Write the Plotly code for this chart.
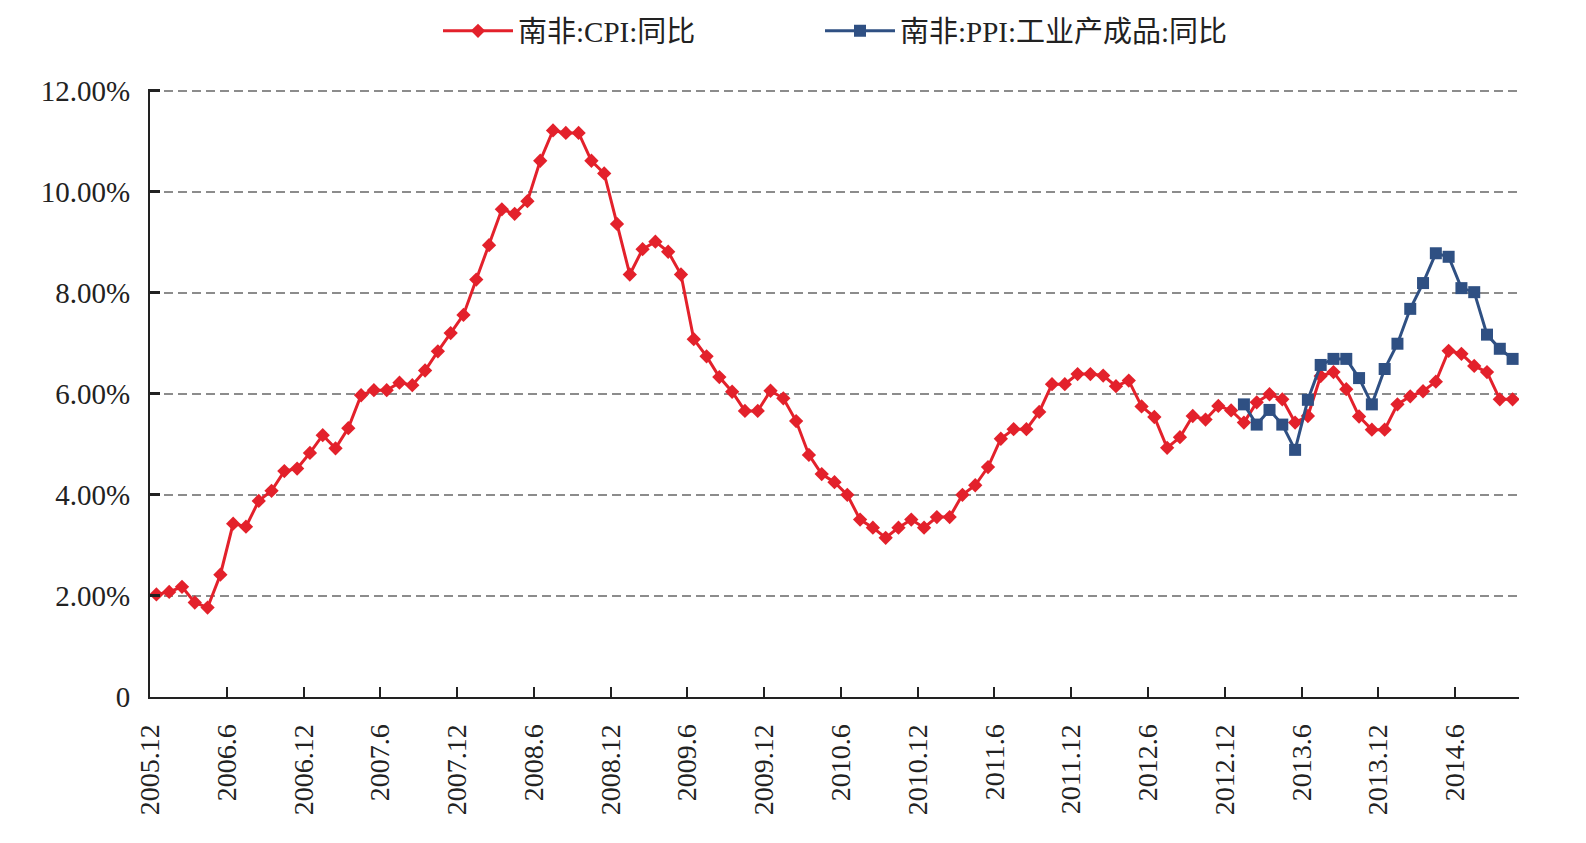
import plotly.graph_objects as go

# Months: 2005.12 .. 2014.10 (107 monthly points)
months = []
y, m = 2005, 12
for _ in range(107):
    months.append(f"{y}.{m}")
    m += 1
    if m > 12:
        m = 1
        y += 1

cpi = [2.03, 2.08, 2.18, 1.87, 1.77, 2.42, 3.43, 3.37, 3.88, 4.08,
       4.47, 4.52, 4.83, 5.18, 4.92, 5.32, 5.97, 6.07, 6.07, 6.22,
       6.17, 6.46, 6.84, 7.20, 7.56, 8.26, 8.94, 9.65, 9.56, 9.81,
       10.61, 11.21, 11.16, 11.16, 10.61, 10.36, 9.36, 8.36, 8.86, 9.01,
       8.81, 8.36, 7.08, 6.74, 6.33, 6.04, 5.66, 5.66, 6.06, 5.91,
       5.46, 4.79, 4.41, 4.25, 4.00, 3.51, 3.35, 3.15, 3.35, 3.51,
       3.35, 3.56, 3.56, 4.00, 4.19, 4.55, 5.11, 5.30, 5.30, 5.64,
       6.19, 6.19, 6.39, 6.39, 6.36, 6.15, 6.26, 5.75, 5.54, 4.93,
       5.14, 5.56, 5.49, 5.76, 5.67, 5.43, 5.83, 5.99, 5.89, 5.43,
       5.56, 6.35, 6.43, 6.09, 5.55, 5.29, 5.29, 5.79, 5.95, 6.05,
       6.24, 6.85, 6.79, 6.55, 6.43, 5.89, 5.89]

ppi_months = months[85:]
ppi = [5.79, 5.39, 5.68, 5.39, 4.89, 5.88, 6.57, 6.69, 6.69, 6.31,
       5.79, 6.49, 6.99, 7.68, 8.19, 8.78, 8.71, 8.09, 8.01, 7.17,
       6.89, 6.69]

tick_labels = months[::6]
y_ticks = [0, 2, 4, 6, 8, 10, 12]
y_tick_text = ["0", "2.00%", "4.00%", "6.00%", "8.00%", "10.00%", "12.00%"]

idx = {mm: i for i, mm in enumerate(months)}
x_cpi = [idx[mm] for mm in months]
x_ppi = [idx[mm] for mm in ppi_months]

FONT = "Liberation Serif, Noto Sans CJK SC"

fig = go.Figure()
fig.add_trace(go.Scatter(
    x=x_cpi, y=cpi, mode="lines+markers", name="南非:CPI:同比",
    line=dict(color="#E3212B", width=3),
    marker=dict(symbol="diamond", size=11, color="#E3212B"),
    legend="legend",
))
fig.add_trace(go.Scatter(
    x=x_ppi, y=ppi, mode="lines+markers", name="南非:PPI:工业产成品:同比",
    line=dict(color="#2F5083", width=3),
    marker=dict(symbol="square", size=12, color="#2F5083"),
    legend="legend2",
))

legend_common = dict(orientation="h", xref="container", yref="container",
                     xanchor="left", y=1 - 31 / 843, yanchor="middle",
                     font=dict(family=FONT, size=29, color="#222222"),
                     itemwidth=70, bgcolor="rgba(0,0,0,0)")

fig.update_layout(
    width=1586, height=843,
    margin=dict(l=150, r=67, t=89, b=146),
    paper_bgcolor="white", plot_bgcolor="white",
    font=dict(family=FONT, size=26, color="#222222"),
    showlegend=True,
    legend=dict(x=438 / 1586, **legend_common),
    legend2=dict(x=820 / 1586, **legend_common),
    xaxis=dict(
        range=[-0.5, len(months) - 0.5],
        tickmode="array",
        tickvals=[i - 0.5 for i in range(0, len(months), 6)],
        ticktext=tick_labels,
        tickangle=-90,
        ticks="inside", ticklen=10, tickwidth=2, tickcolor="#222222",
        showline=True, linecolor="#222222", linewidth=2,
        showgrid=False, zeroline=False,
        tickfont=dict(family=FONT, size=28, color="#222222"),
        ticklabelstandoff=14,
    ),
    yaxis=dict(
        range=[0, 12.03],
        tickmode="array", tickvals=y_ticks, ticktext=y_tick_text,
        ticks="inside", ticklen=10, tickwidth=3, tickcolor="#222222",
        showline=True, linecolor="#222222", linewidth=2,
        showgrid=True, gridcolor="#8C8C8C", griddash="9px,5px", gridwidth=1.5,
        zeroline=False,
        tickfont=dict(family=FONT, size=29, color="#222222"),
        ticklabelstandoff=12,
    ),
)

fig.write_html("out.html")
